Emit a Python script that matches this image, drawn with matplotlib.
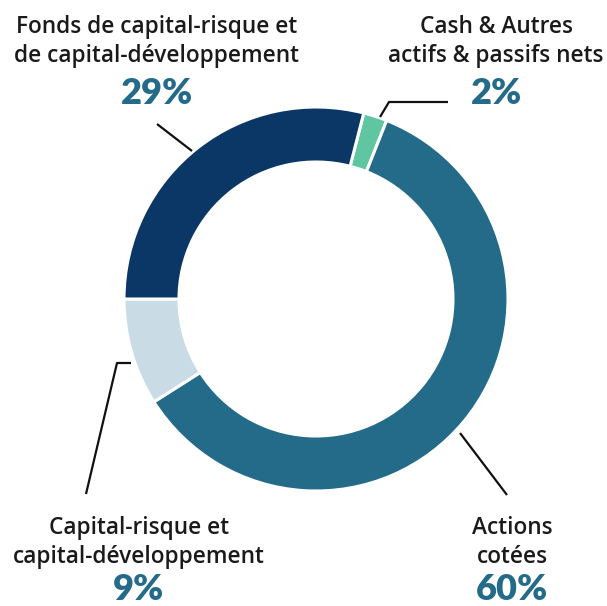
import matplotlib
matplotlib.use("Agg")
import matplotlib.pyplot as plt

# data (clockwise from just right of 12 o'clock)
labels = ["Cash & Autres\nactifs & passifs nets", "Actions\ncotées",
          "Capital-risque et\ncapital-développement",
          "Fonds de capital-risque et\nde capital-développement"]
shares = [2, 60, 9, 29]
colors = ["#5fc6a1", "#246a89", "#c9dce6", "#0b3766"]

W, H = 607, 606
TEXT = "#1a1a1a"
PCT = "#246a89"

plt.rcParams["font.family"] = ["Open Sans", "DejaVu Sans"]

fig = plt.figure(figsize=(W / 100, H / 100), dpi=100)
ax = fig.add_axes([0, 0, 1, 1])

cx, cy, R = 316, H - 299, 192
# Fonds wedge starts at 9 o'clock, so the first wedge starts 29% before that
start = 180 - 360 * shares[-1] / 100 + 360
ax.pie(shares, colors=colors, startangle=start, counterclock=False,
       center=(cx, cy), radius=R, frame=True,
       wedgeprops=dict(width=55, edgecolor="white", linewidth=2.2))
ax.set_xlim(0, W)
ax.set_ylim(0, H)
ax.set_aspect("equal")
ax.axis("off")

# label placement in pixels (x center, y of first line, y of percentage)
layout = [
    (496, 27, 93),
    (512, 528, 589),
    (139, 528, 589),
    (157, 27, 93),
]
leaders = [
    [(380, 117), (389, 102), (448, 102)],
    [(460, 433), (507, 495)],
    [(131, 363), (117, 363), (86, 494)],
    [(157, 124), (192, 151)],
]

for lab, pct, (x, y1, yp), pts in zip(labels, shares, layout, leaders):
    for i, line in enumerate(lab.split("\n")):
        ax.text(x, H - (y1 + 29 * i), line, ha="center", va="center",
                fontsize=16.3, fontweight="semibold", color=TEXT)
    ax.text(x, H - yp, f"{pct}%", ha="center", va="center",
            fontsize=26, fontweight="heavy", color=PCT,
            family=["Lato", "DejaVu Sans"])
    xs = [p[0] for p in pts]
    ys = [H - p[1] for p in pts]
    ax.plot(xs, ys, color="#111111", lw=1.6, solid_capstyle="butt")

fig.savefig("out.png", dpi=100)
